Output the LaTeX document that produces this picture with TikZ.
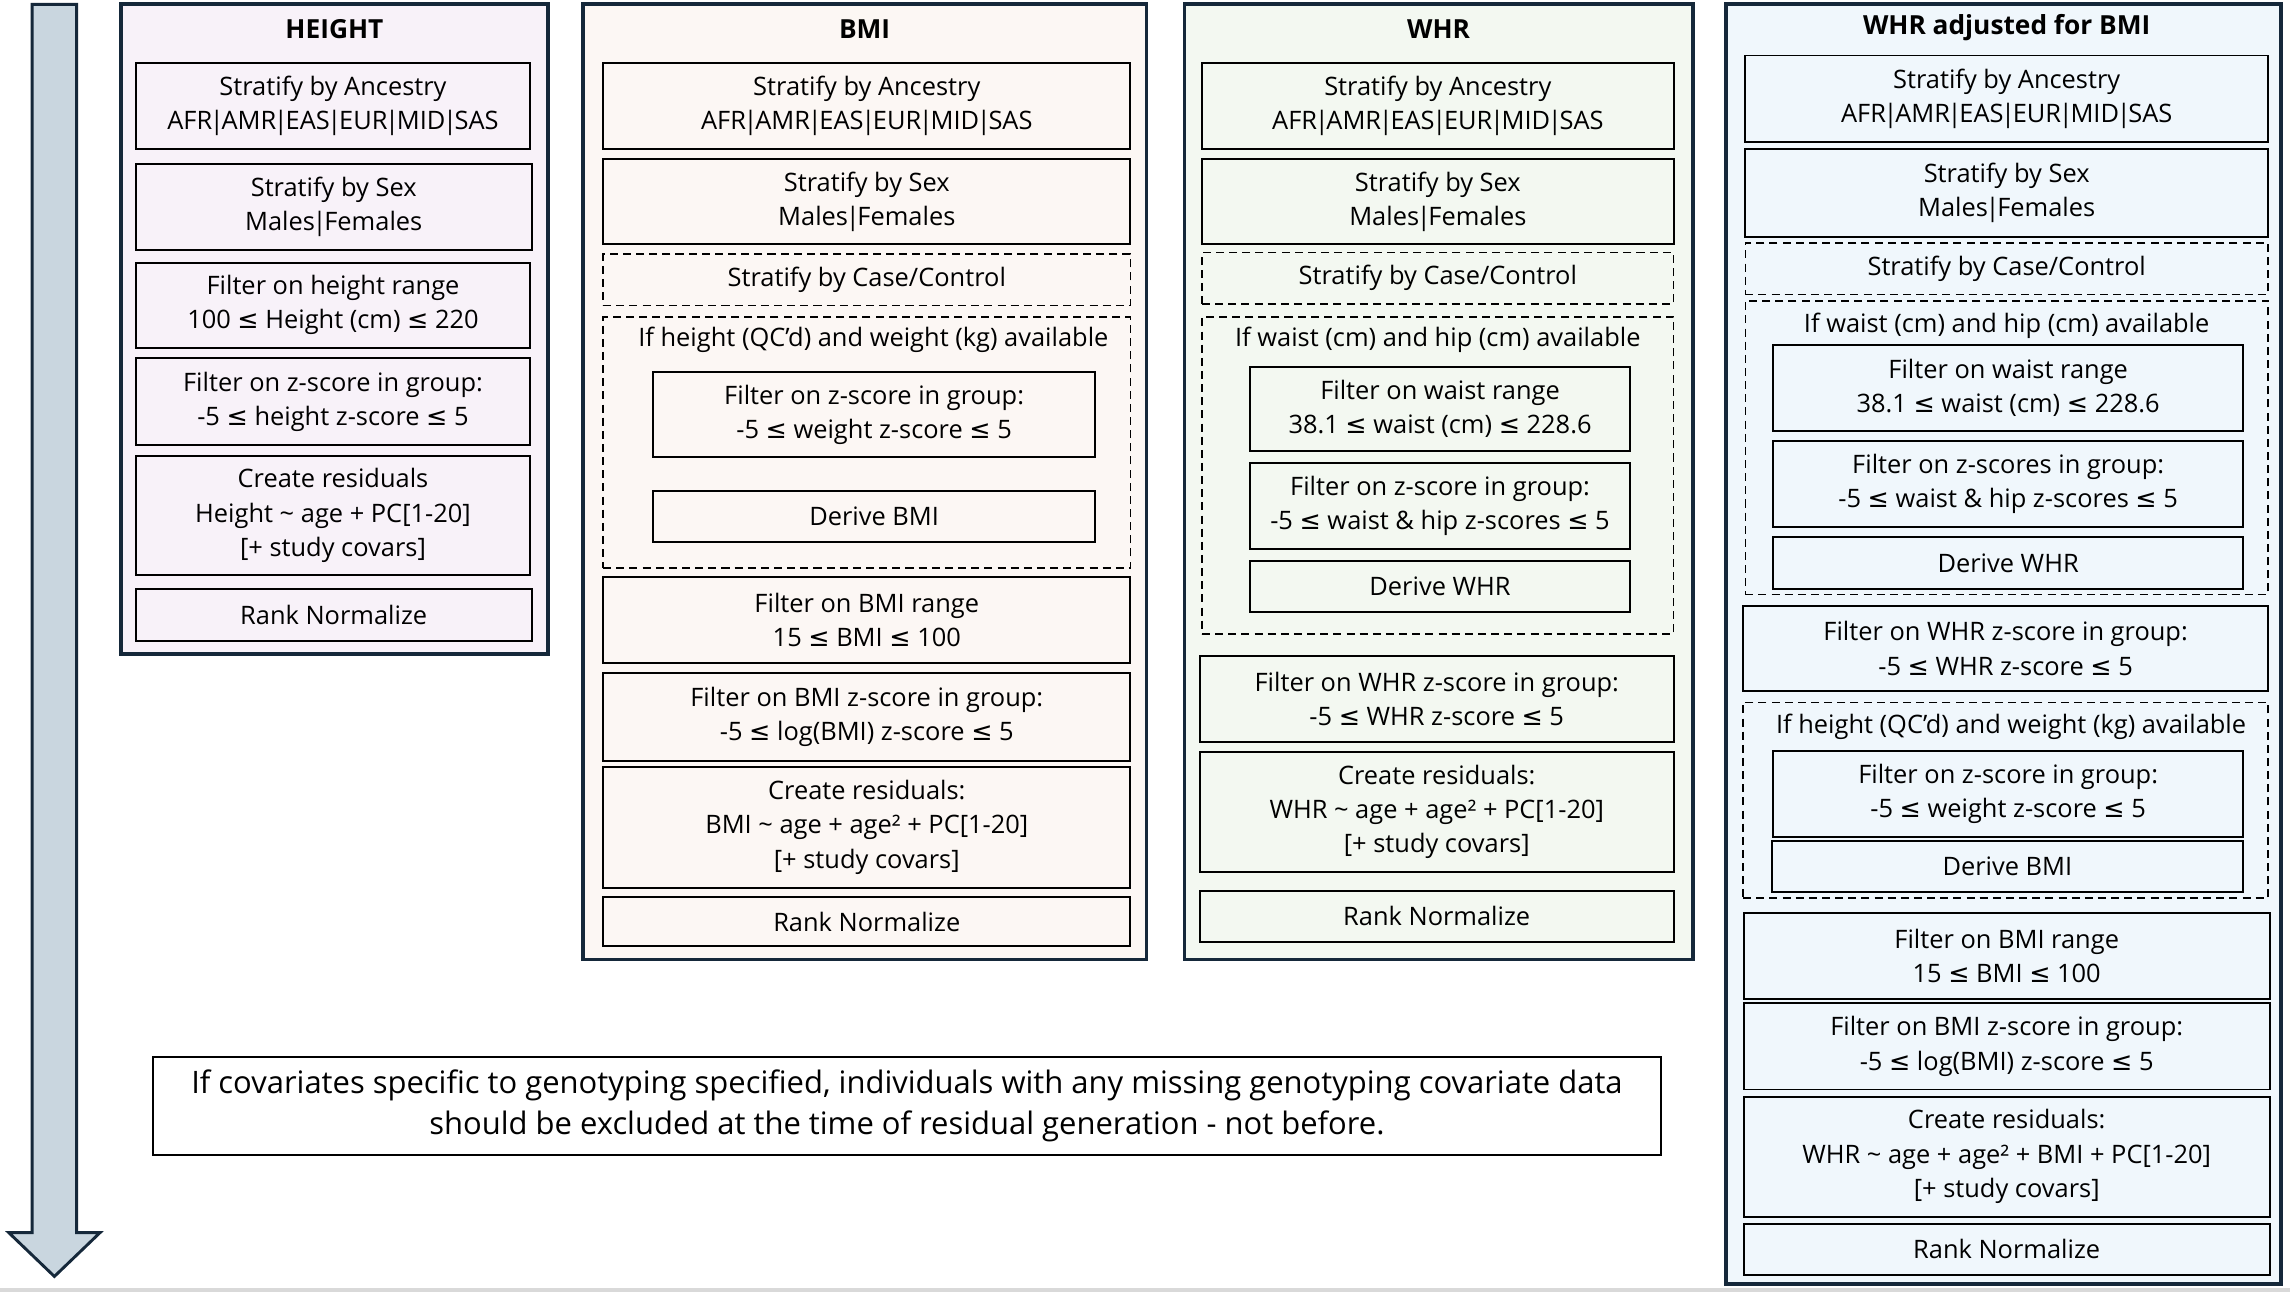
\documentclass[tikz,border=0pt]{standalone}
\usepackage{fontspec}
\setmainfont{Open Sans}
\newfontfamily\symfnt{DejaVu Sans}
\newcommand{\leqsym}{{\symfnt ≤}}
\newcommand{\vb}{\kern-1.6pt|\kern-1.6pt}
\definecolor{navy}{HTML}{15283A}
\definecolor{arrowfill}{HTML}{C9D6DF}
\definecolor{hfill}{HTML}{F8F2F9}
\definecolor{bfill}{HTML}{FCF7F4}
\definecolor{wfill}{HTML}{F3F8F1}
\definecolor{afill}{HTML}{F0F7FC}
\definecolor{bandgray}{HTML}{D9D9D9}
\tikzset{
  panel/.style={draw=navy, line width=2.6pt, inner sep=0pt},
  solidbox/.style={draw=black, line width=1.3pt, inner sep=0pt, align=center, font=\fontsize{17.4}{23.5}\selectfont},
  dashbox/.style={draw=black, line width=1pt, dash pattern=on 5.5pt off 3.5pt, inner sep=0pt, align=center, font=\fontsize{17.4}{23.5}\selectfont},
  grouptitle/.style={inner sep=0pt, font=\fontsize{17.4}{23.5}\selectfont},
  paneltitle/.style={inner sep=0pt, font=\fontsize{18}{20}\selectfont\bfseries},
  footbox/.style={draw=black, line width=1.3pt, inner sep=0pt, align=center, font=\fontsize{21.2}{28}\selectfont},
  flowarrow/.style={draw=navy, line width=2pt, fill=arrowfill, line join=miter}
}
\newcommand{\bx}[7][solidbox]{\node[#1, minimum width={(#4-#2)*1pt}, minimum height={(#5-#3)*1pt}] (#6) at ({(#2+#4)/2},{(#3+#5)/2}) {#7};}
\newcommand{\pn}[6]{\node[panel, fill=#6, minimum width={(#3-#1)*1pt}, minimum height={(#4-#2)*1pt}] (#5) at ({(#1+#3)/2},{(#2+#4)/2}) {};}
\newcommand{\tl}{\textasciitilde}
\newcommand{\anc}{Stratify by Ancestry\\AFR\vb AMR\vb EAS\vb EUR\vb MID\vb SAS}
\newcommand{\sexs}{Stratify by Sex\\Males\vb Females}
\begin{document}
\begin{tikzpicture}[x=1pt,y=-1pt]
\useasboundingbox (0,0) rectangle (1568,884.65);
\fill[bandgray] (0,882) rectangle (1568,884.65);
% flow arrow
\draw[flowarrow] (22,3) -- (52.5,3) -- (52.5,844) -- (68.5,844) -- (37.25,874) -- (6,844) -- (22,844) -- cycle;

% ---------------- HEIGHT
\pn{83}{3}{375}{448}{hp}{hfill}
\node[paneltitle] (ht) at (229,20) {HEIGHT};
\bx{93}{43}{363}{102}{h1}{\anc}
\bx{93}{112}{364}{171}{h2}{\sexs}
\bx{93}{180}{363}{238}{h3}{Filter on height range\\100 \leqsym{} Height (cm) \leqsym{} 220}
\bx{93}{245}{363}{305}{h4}{Filter on z-score in group:\\-5 \leqsym{} height z-score \leqsym{} 5}
\bx{93}{312}{363}{394}{h5}{Create residuals\\Height \tl{} age + PC[1-20]\\{[}+ study covars]}
\bx{93}{403}{364}{439}{h6}{Rank Normalize}

% ---------------- BMI
\pn{399}{3}{785}{657}{bp}{bfill}
\node[paneltitle] (bt) at (592,20) {BMI};
\bx{413}{43}{774}{102}{b1}{\anc}
\bx{413}{109}{774}{167}{b2}{\sexs}
\bx[dashbox]{413}{174}{774}{209}{b3}{Stratify by Case/Control}
\bx[dashbox]{413}{217}{774}{389}{b4}{}
\node[grouptitle] (b4t) at (598,233) {If height (QC’d) and weight (kg) available};
\bx{447}{255}{750}{313}{b4a}{Filter on z-score in group:\\-5 \leqsym{} weight z-score \leqsym{} 5}
\bx{447}{336}{750}{371}{b4b}{Derive BMI}
\bx{413}{395}{774}{454}{b5}{Filter on BMI range\\15 \leqsym{} BMI \leqsym{} 100}
\bx{413}{461}{774}{521}{b6}{Filter on BMI z-score in group:\\-5 \leqsym{} log(BMI) z-score \leqsym{} 5}
\bx{413}{525}{774}{608}{b7}{Create residuals:\\BMI \tl{} age + age² + PC[1-20]\\{[}+ study covars]}
\bx{413}{614}{774}{648}{b8}{Rank Normalize}

% ---------------- WHR
\pn{811}{3}{1159}{657}{wp}{wfill}
\node[paneltitle] (wt) at (985,20) {WHR};
\bx{823}{43}{1146}{102}{w1}{\anc}
\bx{823}{109}{1146}{167}{w2}{\sexs}
\bx[dashbox]{823}{173}{1146}{208}{w3}{Stratify by Case/Control}
\bx[dashbox]{823}{217}{1146}{434}{w4}{}
\node[grouptitle] (w4t) at (984.5,233) {If waist (cm) and hip (cm) available};
\bx{856}{251}{1116}{309}{w4a}{Filter on waist range\\38.1 \leqsym{} waist (cm) \leqsym{} 228.6}
\bx{856}{317}{1116}{376}{w4b}{Filter on z-score in group:\\-5 \leqsym{} waist \& hip z-scores \leqsym{} 5}
\bx{856}{384}{1116}{419}{w4c}{Derive WHR}
\bx{821.5}{449}{1146}{508}{w5}{Filter on WHR z-score in group:\\-5 \leqsym{} WHR z-score \leqsym{} 5}
\bx{821.5}{515}{1146}{597}{w6}{Create residuals:\\WHR \tl{} age + age² + PC[1-20]\\{[}+ study covars]}
\bx{821.5}{610}{1146}{645}{w7}{Rank Normalize}

% ---------------- WHR adjusted for BMI
\pn{1182}{3}{1562}{879}{ap}{afill}
\node[paneltitle] (at) at (1374,19) {WHR adjusted for BMI};
\bx{1195}{38}{1553}{97}{a1}{\anc}
\bx{1195}{102}{1553}{162}{a2}{\sexs}
\bx[dashbox]{1195}{166.5}{1553}{201.5}{a3}{Stratify by Case/Control}
\bx[dashbox]{1195}{206}{1553}{407}{a4}{}
\node[grouptitle] (a4t) at (1374,223) {If waist (cm) and hip (cm) available};
\bx{1214}{236}{1536}{295}{a4a}{Filter on waist range\\38.1 \leqsym{} waist (cm) \leqsym{} 228.6}
\bx{1214}{302}{1536}{361}{a4b}{Filter on z-scores in group:\\-5 \leqsym{} waist \& hip z-scores \leqsym{} 5}
\bx{1214}{368}{1536}{403}{a4c}{Derive WHR}
\bx{1193.5}{415}{1553}{473}{a5}{Filter on WHR z-score in group:\\-5 \leqsym{} WHR z-score \leqsym{} 5}
\bx[dashbox]{1193.5}{481}{1553}{615}{a6}{}
\node[grouptitle] (a6t) at (1377,498) {If height (QC’d) and weight (kg) available};
\bx{1214}{514}{1536}{573}{a6a}{Filter on z-score in group:\\-5 \leqsym{} weight z-score \leqsym{} 5}
\bx{1213}{576}{1536}{611}{a6b}{Derive BMI}
\bx{1194}{625}{1554}{684}{a7}{Filter on BMI range\\15 \leqsym{} BMI \leqsym{} 100}
\bx{1194}{687}{1554}{746}{a8}{Filter on BMI z-score in group:\\-5 \leqsym{} log(BMI) z-score \leqsym{} 5}
\bx{1194}{751}{1554}{833}{a9}{Create residuals:\\WHR \tl{} age + age² + BMI + PC[1-20]\\{[}+ study covars]}
\bx{1194}{838}{1554}{873}{a10}{Rank Normalize}

% ---------------- footnote
\bx[footbox]{105}{724}{1137}{791}{fn}{If covariates specific to genotyping specified, individuals with any missing genotyping covariate data\\should be excluded at the time of residual generation - not before.}
\end{tikzpicture}
\end{document}
